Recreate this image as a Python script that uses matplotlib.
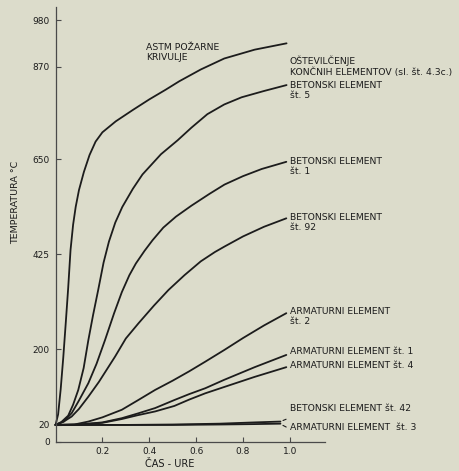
import numpy as np
import matplotlib
matplotlib.use("Agg")
import matplotlib.pyplot as plt

# (time in hours, temperature in deg C)
astm_x = [0, 0.011, 0.022, 0.033, 0.044, 0.054, 0.064, 0.075, 0.086, 0.10, 0.121, 0.145, 0.171,
          0.2, 0.257, 0.33, 0.40, 0.47, 0.528, 0.62, 0.72, 0.85, 0.986]
astm_y = [20, 45, 105, 180, 265, 345, 435, 495, 537, 577, 620, 660, 692,
          714, 740, 767, 792, 815, 835, 863, 889, 910, 925]

b5_x = [0, 0.025, 0.054, 0.075, 0.097, 0.12, 0.14, 0.16, 0.182, 0.205, 0.228, 0.255, 0.285,
        0.33, 0.371, 0.45, 0.521, 0.58, 0.648, 0.72, 0.794, 0.89, 0.986]
b5_y = [20, 27, 42, 68, 103, 155, 221, 280, 340, 405, 455, 500, 537,
        580, 614, 662, 695, 725, 757, 780, 797, 812, 826]

b1_x = [0, 0.035, 0.069, 0.1, 0.14, 0.175, 0.211, 0.25, 0.283, 0.315, 0.343, 0.38, 0.414,
        0.46, 0.514, 0.58, 0.657, 0.721, 0.8, 0.88, 0.985]
b1_y = [20, 28, 48, 78, 119, 165, 221, 285, 335, 375, 403, 433, 458,
        488, 514, 540, 568, 590, 610, 627, 644]

b92_x = [0, 0.035, 0.069, 0.1, 0.14, 0.185, 0.254, 0.3, 0.354, 0.42, 0.482, 0.55, 0.62,
         0.68, 0.721, 0.8, 0.89, 0.985]
b92_y = [20, 28, 40, 58, 87, 122, 182, 225, 261, 303, 340, 375, 408,
         430, 443, 467, 490, 510]

a2_x = [0, 0.08, 0.14, 0.2, 0.283, 0.35, 0.425, 0.5, 0.57, 0.639, 0.721, 0.8, 0.89, 0.985]
a2_y = [20, 21, 28, 38, 56, 78, 103, 125, 147, 170, 198, 226, 256, 285]

a1_x = [0, 0.1, 0.2, 0.283, 0.35, 0.425, 0.507, 0.57, 0.639, 0.72, 0.85, 0.985]
a1_y = [20, 21, 26, 36, 47, 60, 79, 93, 107, 127, 157, 186]

a4_x = [0, 0.1, 0.2, 0.283, 0.35, 0.425, 0.507, 0.57, 0.639, 0.72, 0.85, 0.985]
a4_y = [20, 21, 25, 34, 43, 52, 65, 80, 95, 110, 134, 157]

b42_x = [0, 0.3, 0.5, 0.7, 0.85, 0.96]
b42_y = [20, 20, 21, 23, 26, 28]

a3_x = [0, 0.5, 0.7, 0.85, 0.96]
a3_y = [20, 20, 21, 22, 23]

y_ticks = [0, 20, 200, 425, 650, 870, 980]
x_ticks = [0.2, 0.4, 0.6, 0.8, 1.0]

bg = "#dcdccb"
ink = "#1c1c1c"
plt.rcParams["font.family"] = ["DejaVu Sans"]

fig = plt.figure(figsize=(4.59, 4.71), dpi=100, facecolor=bg)
ax = fig.add_axes([0.121, 0.062, 0.587, 0.923], facecolor=bg)


# bottom 0..20 band is stretched on the original axis
def fwd(v):
    v = np.asarray(v, dtype=float)
    return np.where(v < 20, 2 * v, v + 20)


def inv(u):
    u = np.asarray(u, dtype=float)
    return np.where(u < 40, u / 2, u - 20)


ax.set_yscale("function", functions=(fwd, inv))
ax.set_xlim(0, 1.15)
ax.set_ylim(0, 1011)

for xs, ys in [(astm_x, astm_y), (b5_x, b5_y), (b1_x, b1_y), (b92_x, b92_y),
               (a2_x, a2_y), (a1_x, a1_y), (a4_x, a4_y), (b42_x, b42_y), (a3_x, a3_y)]:
    ax.plot(xs, ys, color=ink, lw=1.3, solid_capstyle="round", solid_joinstyle="round",
            clip_on=False)

for s in ["top", "right"]:
    ax.spines[s].set_visible(False)
for s in ["left", "bottom"]:
    ax.spines[s].set_color("#4a4a4a")
    ax.spines[s].set_linewidth(0.9)

ax.set_yticks(y_ticks)
ax.set_yticklabels([str(t) for t in y_ticks])
ax.set_xticks(x_ticks)
ax.set_xticklabels([str(t) for t in x_ticks])
ax.tick_params(axis="both", direction="in", length=3.5, width=0.8, color="#4a4a4a",
               labelsize=6.5, labelcolor=ink)
ax.tick_params(axis="y", pad=4)
ax.tick_params(axis="x", pad=3.5)

ax.set_ylabel("TEMPERATURA °C", fontsize=6.8, color=ink)
ax.yaxis.set_label_coords(-0.13, 0.551)
ax.set_xlabel("ČAS - URE", fontsize=7, color=ink)
ax.xaxis.set_label_coords(0.422, -0.04)

fs = 6.7
kw = dict(fontsize=fs, color=ink, ha="left", va="center", linespacing=1.15)
ax.text(0.387, 903, "ASTM POŽARNE\nKRIVULJE", **kw)
ax.text(1.0, 871, "OŠTEVILČENJE\nKONČNIH ELEMENTOV (sl. št. 4.3c.)", **kw)
ax.text(1.0, 814, "BETONSKI ELEMENT\nšt. 5", **kw)
ax.text(1.0, 633, "BETONSKI ELEMENT\nšt. 1", **kw)
ax.text(1.0, 499, "BETONSKI ELEMENT\nšt. 92", **kw)
ax.text(1.0, 278, "ARMATURNI ELEMENT\nšt. 2", **kw)
ax.text(1.0, 194, "ARMATURNI ELEMENT št. 1", **kw)
ax.text(1.0, 162, "ARMATURNI ELEMENT št. 4", **kw)
ax.text(1.0, 58, "BETONSKI ELEMENT št. 42", **kw)
ax.text(1.0, 17, "ARMATURNI ELEMENT  št. 3", **kw)

# small leaders from the two flat curves to their labels
ax.annotate("", xy=(0.995, 36), xytext=(0.96, 28),
            arrowprops=dict(arrowstyle="-", color=ink, lw=0.8))
ax.annotate("", xy=(0.995, 16), xytext=(0.96, 22),
            arrowprops=dict(arrowstyle="-", color=ink, lw=0.8))

fig.savefig("out.png", dpi=100, facecolor=bg)
